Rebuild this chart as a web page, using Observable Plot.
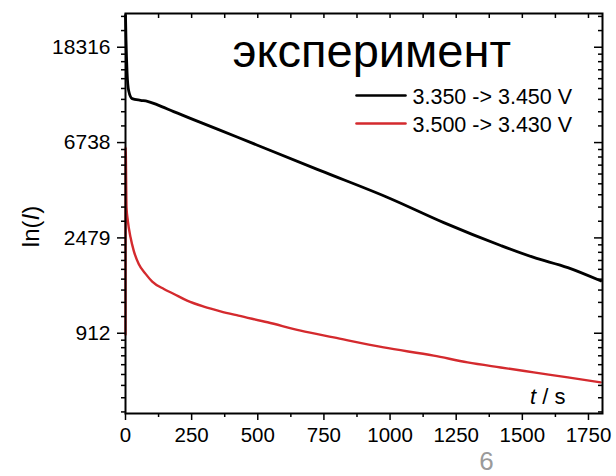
<!DOCTYPE html>
<html><head><meta charset="utf-8">
<script src="https://cdn.jsdelivr.net/npm/d3@7"></script>
<script src="https://cdn.jsdelivr.net/npm/@observablehq/plot@0.6"></script>
<style>
body{margin:0;background:#fff}
#chart svg{font-family:"Liberation Sans", Arial, sans-serif}
</style>
</head><body><div id="chart"></div>
<script>
// --- data (t in s, current on a natural-log axis) ---
const tBlack = [0, 2, 6, 12, 25, 57, 83, 121, 182, 295, 424, 548, 737, 1002, 1203, 1418, 1543, 1672, 1796];
const iBlack = [25550, 19640, 14020, 11600, 10680, 10500, 10390, 10010, 9320, 8220, 7130, 6200, 5020, 3740, 2910, 2290, 2020, 1815, 1580];

const tRed = [0, 0.5, 3.8, 8.7, 19, 31, 50, 76, 101, 145, 183, 233, 296, 359, 427, 537, 662, 787, 976, 1165, 1293, 1418, 1543, 1672, 1796];
const iRed = [900, 6420, 3420, 2975, 2495, 2170, 1885, 1700, 1568, 1451, 1377, 1284, 1206, 1148, 1097, 1023, 937, 873, 786, 721, 672, 637, 605, 574, 545];

const seriesNames = ["3.350 -> 3.450 V", "3.500 -> 3.430 V"];
const seriesColors = ["#000000", "#d42a2e"];

const titleText = "эксперимент";
const yLabel = "ln(I)";
const xLabel = "t / s";
const figNumber = "6";

const xMajor = [0, 250, 500, 750, 1000, 1250, 1500, 1750];
const xMinor = [125, 375, 625, 875, 1125, 1375, 1625];
const yMajor = [912, 2479, 6738, 18316];
const xDomain = [0, 1803];
const yDomain = [393, 26090];

// minor ticks: 8 linear subdivisions between consecutive e-spaced majors
const yMinor = [];
{
  const edges = [yMajor[0] / Math.E, ...yMajor, yMajor[yMajor.length - 1] * Math.E];
  for (let k = 0; k < edges.length - 1; k++) {
    const a = edges[k], b = edges[k + 1];
    for (let i = 1; i <= 8; i++) {
      const v = a + i * (b - a) / 9;
      if (v > yDomain[0] && v < yDomain[1]) yMinor.push(v);
    }
  }
}

const black = tBlack.map((t, i) => ({t, v: iBlack[i]}));
const red = tRed.map((t, i) => ({t, v: iRed[i]}));

const W = 616, H = 476, mL = 125, mR = 14, mT = 13, mB = 63;
const plotW = W - mL - mR, plotH = H - mT - mB;
const font = "Liberation Sans, Arial, sans-serif";

const lineShape = {draw(context, l) { context.moveTo(0, 0); context.lineTo(0, -l); }};

const legendMarks = seriesNames.flatMap((name, i) => [
  Plot.vector([0], {frameAnchor: "top-left", dx: 356 - mL, dy: 95 - mT + i * 28, length: 49, rotate: 90,
    anchor: "start", shape: lineShape, stroke: seriesColors[i], strokeWidth: 2.6}),
  Plot.text([name], {frameAnchor: "top-left", dx: 412 - mL, dy: 103 - mT + i * 28, textAnchor: "start",
    lineAnchor: "bottom", fontSize: 21.5, fill: "#000"})
]);

const chart = Plot.plot({
  width: W, height: H,
  marginLeft: mL, marginRight: mR, marginTop: mT, marginBottom: mB,
  style: {fontFamily: font, background: "#fff", color: "#000", overflow: "visible"},
  x: {domain: xDomain},
  y: {type: "log", base: Math.E, domain: yDomain},
  marks: [
    Plot.line(black, {x: "t", y: "v", stroke: seriesColors[0], strokeWidth: 2.8, curve: "monotone-x"}),
    Plot.line(red, {x: "t", y: "v", stroke: seriesColors[1], strokeWidth: 2.4, curve: "monotone-x"}),
    Plot.axisX(xMajor, {anchor: "bottom", tickSize: 7, tickPadding: 7, fontSize: 20.5, label: null, tickFormat: d => String(d), strokeWidth: 1.5}),
    Plot.axisX(xMinor, {anchor: "bottom", tickSize: 4, label: null, tickFormat: () => "", strokeWidth: 1.5}),
    Plot.tickX([...xMajor, ...xMinor], {x: d => d, insetBottom: plotH - 5, strokeWidth: 1.5}),
    Plot.axisY(yMajor, {anchor: "left", tickSize: 8, tickPadding: 7, fontSize: 21, label: null, tickFormat: d => String(d), strokeWidth: 1.5}),
    Plot.axisY(yMinor, {anchor: "left", tickSize: 4, label: null, tickFormat: () => "", strokeWidth: 1.5}),
    Plot.tickY(yMajor, {y: d => d, insetLeft: plotW - 8, strokeWidth: 1.5}),
    Plot.tickY(yMinor, {y: d => d, insetLeft: plotW - 4, strokeWidth: 1.5}),
    Plot.frame({stroke: "#000", strokeWidth: 2}),
    Plot.text([titleText], {frameAnchor: "top-left", dx: 232 - mL, dy: 66 - mT, textAnchor: "start", lineAnchor: "bottom", fontSize: 47, fill: "#000"}),
    ...legendMarks,
    Plot.text([xLabel], {frameAnchor: "bottom-right", dx: -37, dy: -10, textAnchor: "end", lineAnchor: "bottom", fontSize: 22, fill: "#000"}),
    Plot.text([yLabel], {frameAnchor: "left", dx: 38 - mL, dy: 226 - (mT + plotH / 2), rotate: -90, textAnchor: "middle", lineAnchor: "bottom", fontSize: 24, fill: "#000"}),
    Plot.text([figNumber], {frameAnchor: "bottom", dx: 486 - (mL + plotW / 2), dy: 469 - (mT + plotH), textAnchor: "middle", lineAnchor: "bottom", fontSize: 26, fill: "#9a9a9a"})
  ]
});

// italic variable letters inside the labels
d3.select(chart).selectAll("text").each(function() {
  const el = d3.select(this);
  const s = el.text();
  if (s === yLabel) {
    el.text(null);
    el.append("tspan").text("ln(");
    el.append("tspan").attr("font-style", "italic").text("I");
    el.append("tspan").text(")");
  } else if (s === xLabel) {
    el.text(null);
    el.append("tspan").attr("font-style", "italic").text("t");
    el.append("tspan").text(" / s");
  }
});

document.getElementById("chart").append(chart);
</script>
</body></html>
